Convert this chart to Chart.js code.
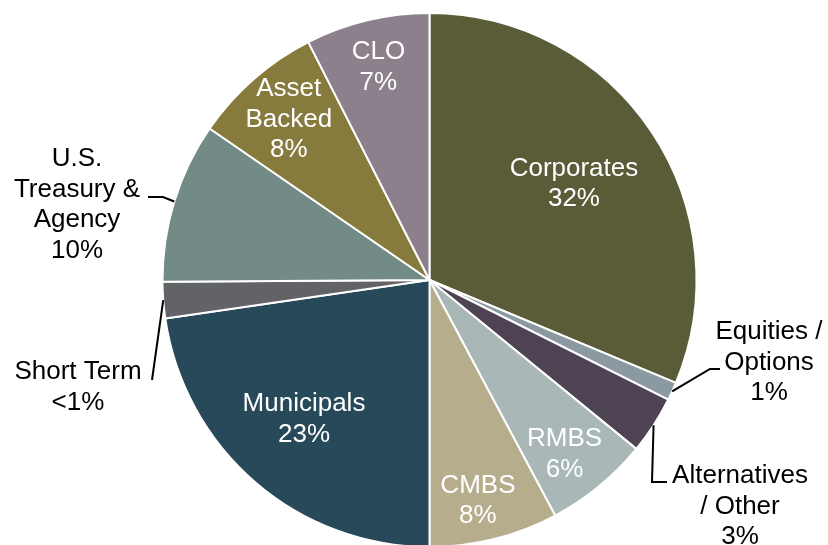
<!DOCTYPE html>
<html>
<head>
<meta charset="utf-8">
<script src="https://cdn.jsdelivr.net/npm/chart.js@4/dist/chart.umd.min.js"></script>
<style>
  html, body { margin: 0; padding: 0; background: #fff; }
  body { width: 828px; height: 545px; overflow: hidden; position: relative; }
  #wrap { position: absolute; left: 0; top: 0; width: 828px; height: 560px; }
</style>
</head>
<body>
<div id="wrap"><canvas id="pie"></canvas></div>
<script>
// sectors, clockwise from 12 o'clock
const categories = [
  ['Corporates'],
  ['Equities /', 'Options'],
  ['Alternatives', '/ Other'],
  ['RMBS'],
  ['CMBS'],
  ['Municipals'],
  ['Short Term'],
  ['U.S.', 'Treasury &', 'Agency'],
  ['Asset', 'Backed'],
  ['CLO']
];
// slice sizes (%)
const shares = [31.3, 1.1, 3.5, 6.3, 7.8, 22.7, 2.2, 9.7, 7.9, 7.5];
// printed percentages
const pctLabels = ['32%', '1%', '3%', '6%', '8%', '23%', '<1%', '10%', '8%', '7%'];

const colors = ['#5a5c37', '#8a9aa0', '#4e4352', '#a9b8b7', '#b6ad8d',
                '#27495a', '#626367', '#728b86', '#877a3d', '#8b808c'];

// label placement: inside labels sit on the mid angle at a fraction of the radius
// (plus a small nudge), outside labels get a leader line from the rim
const placement = [
  { frac: 0.65 },
  { text: [769, 332], path: [[710, 369], [720, 369]] },
  { text: [740, 476], path: [[652, 482], [667, 482]] },
  { frac: 0.82, nudge: [-4, 5] },
  { frac: 0.84, nudge: [-6, 3] },
  { frac: 0.69, nudge: [-5, 0] },
  { text: [78, 372], path: [[152, 380]] },
  { text: [77, 159], path: [[163, 197], [148, 197]] },
  { frac: 0.80 },
  { frac: 0.82 }
];

const FONT = '26px "Liberation Sans", Arial, sans-serif';
const LINE_H = 30.5;

const sliceLabels = {
  id: 'sliceLabels',
  afterDraw(chart) {
    const ctx = chart.ctx;
    const arcs = chart.getDatasetMeta(0).data;
    ctx.save();
    ctx.font = FONT;
    ctx.textAlign = 'center';
    ctx.textBaseline = 'middle';
    arcs.forEach((arc, i) => {
      const { x, y, startAngle, endAngle, outerRadius } =
        arc.getProps(['x', 'y', 'startAngle', 'endAngle', 'outerRadius'], true);
      const mid = (startAngle + endAngle) / 2;
      const lines = categories[i].concat([pctLabels[i]]);
      const p = placement[i];
      if (p.frac) {
        const nudge = p.nudge || [0, 0];
        const cx = x + Math.cos(mid) * outerRadius * p.frac + nudge[0];
        const cy = y + Math.sin(mid) * outerRadius * p.frac + nudge[1];
        const top = cy - (lines.length - 1) * LINE_H / 2;
        ctx.fillStyle = '#ffffff';
        lines.forEach((t, k) => ctx.fillText(t, cx, top + k * LINE_H));
      } else {
        // leader line
        ctx.strokeStyle = '#000000';
        ctx.lineWidth = 2;
        ctx.beginPath();
        ctx.moveTo(x + Math.cos(mid) * outerRadius, y + Math.sin(mid) * outerRadius);
        p.path.forEach(pt => ctx.lineTo(pt[0], pt[1]));
        ctx.stroke();
        ctx.fillStyle = '#000000';
        lines.forEach((t, k) => ctx.fillText(t, p.text[0], p.text[1] + k * LINE_H));
      }
    });
    ctx.restore();
  }
};

new Chart(document.getElementById('pie'), {
  type: 'pie',
  data: {
    labels: categories.map(c => c.join(' ')),
    datasets: [{
      data: shares,
      backgroundColor: colors,
      borderColor: '#ffffff',
      borderWidth: 2
    }]
  },
  options: {
    responsive: true,
    maintainAspectRatio: false,
    animation: false,
    layout: { padding: { top: 12, bottom: 12, left: 31, right: 0 } },
    plugins: {
      legend: { display: false },
      tooltip: { enabled: false }
    }
  },
  plugins: [sliceLabels]
});
</script>
</body>
</html>
